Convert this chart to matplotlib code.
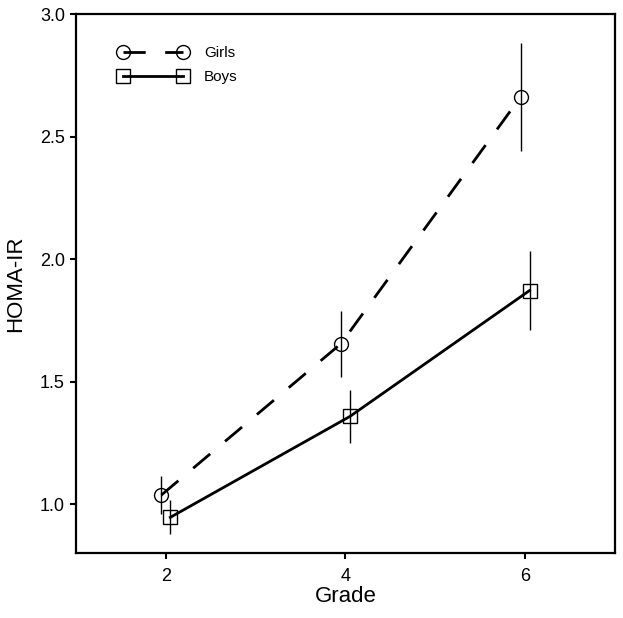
import numpy as np
import matplotlib.pyplot as plt

plt.rcParams['font.family'] = ['Liberation Sans', 'DejaVu Sans']

grades = [2, 4, 6]
girls_mean = [1.037, 1.655, 2.662]
girls_err = [0.077, 0.135, 0.222]
boys_mean = [0.946, 1.358, 1.872]
boys_err = [0.069, 0.108, 0.160]

offset = 0.05

fig = plt.figure(figsize=(6.23, 6.18), dpi=100)
ax = fig.add_axes([0.122, 0.105, 0.865, 0.872])

xg = np.array(grades) - offset
xb = np.array(grades) + offset

ax.errorbar(xg, girls_mean, yerr=girls_err, fmt='none', ecolor='black',
            elinewidth=1.0, capsize=0, zorder=2)
ax.errorbar(xb, boys_mean, yerr=boys_err, fmt='none', ecolor='black',
            elinewidth=1.0, capsize=0, zorder=2)

ax.plot(xg, girls_mean, color='black', lw=2.0, dashes=(8, 7),
        marker='o', ms=10, mfc='none', mec='black', mew=1.0, label='Girls', zorder=3)
ax.plot(xb, boys_mean, color='black', lw=2.0, ls='-',
        marker='s', ms=9.5, mfc='none', mec='black', mew=1.0, label='Boys', zorder=3)

ax.set_xlim(1, 7)
ax.set_ylim(0.8, 3.0)
ax.set_xticks(grades)
ax.set_yticks([1.0, 1.5, 2.0, 2.5, 3.0])
ax.set_yticklabels(['1.0', '1.5', '2.0', '2.5', '3.0'])
ax.tick_params(direction='out', length=4.5, width=1.5, labelsize=13)
ax.tick_params(axis='x', pad=6)
ax.tick_params(axis='y', pad=3.5)
for s in ax.spines.values():
    s.set_linewidth(1.6)

ax.set_xlabel('Grade', fontsize=16, labelpad=1)
ax.set_ylabel('HOMA-IR', fontsize=16, labelpad=10)

leg = ax.legend(loc='upper left', bbox_to_anchor=(0.054, 0.966), frameon=False,
                numpoints=2, handlelength=4.5, handletextpad=1.07,
                labelspacing=0.65, fontsize=11)

fig.savefig('out.png', dpi=100)
